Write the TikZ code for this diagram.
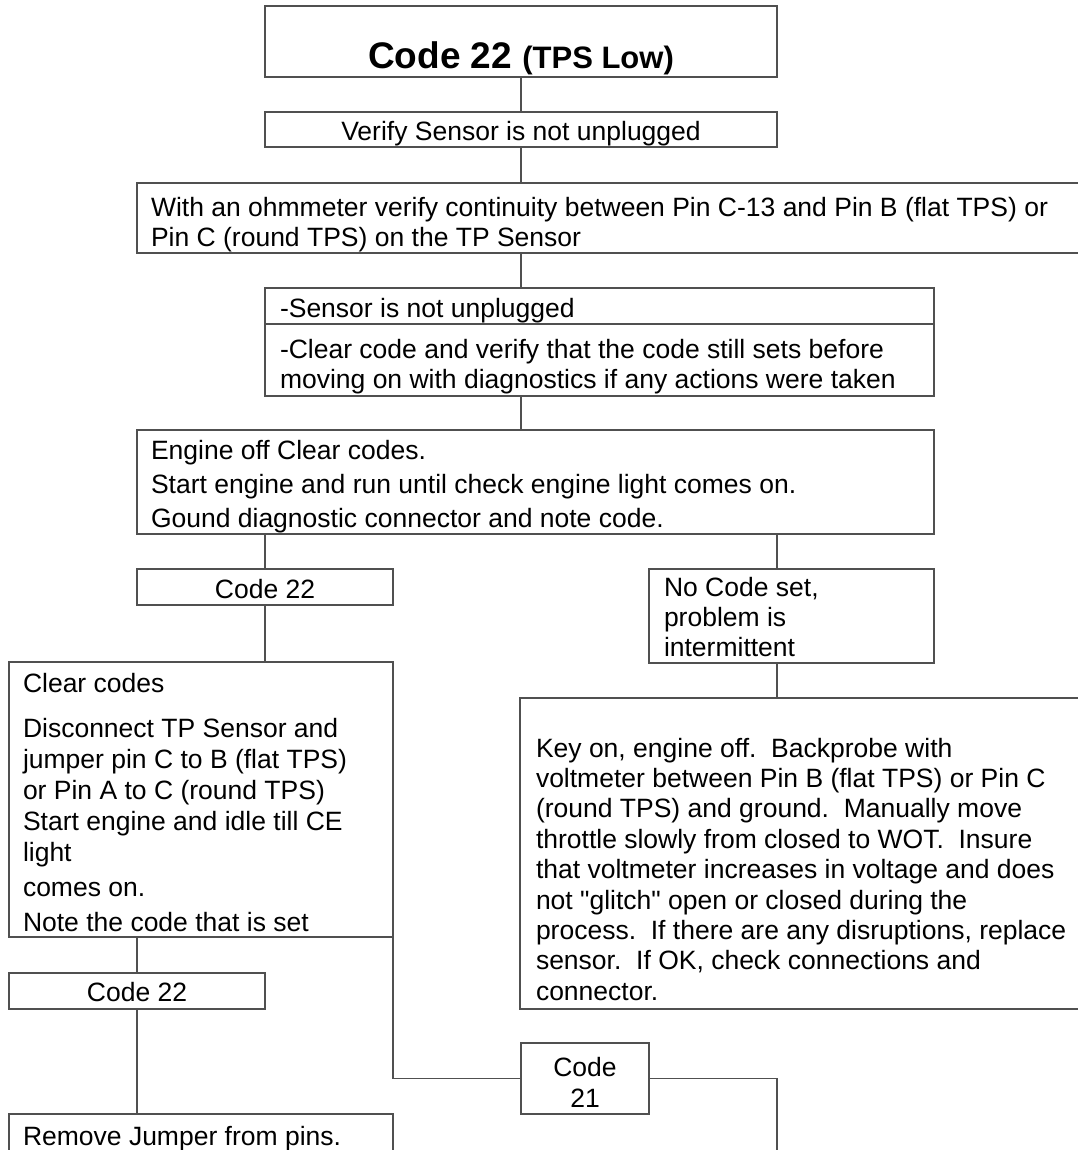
\documentclass[tikz,border=0pt]{standalone}
\usepackage{fontspec}
\setmainfont{Liberation Sans}[Ligatures=TeXOff]
\usetikzlibrary{calc}
\definecolor{linec}{HTML}{505050}
\tikzset{
  box/.style={draw=linec, line width=1.5pt, inner sep=0pt, outer sep=0pt, anchor=north west, rectangle},
  txt/.style={inner sep=0pt, outer sep=0pt, anchor=base west, font=\fontsize{26.5}{30.5}\selectfont\frenchspacing},
  ctxt/.style={txt, anchor=base},
  conn/.style={draw=linec, line width=1.5pt},
}
\newcommand{\mybox}[5]{\node[box, minimum width={#4pt-#2pt}, minimum height={#5pt-#3pt}] (#1) at (#2,#3) {};}
\newcommand{\mtxt}[3]{\parbox[t]{#1}{\fontsize{26.5}{#2}\selectfont\frenchspacing #3}}
\begin{document}
\begin{tikzpicture}[x=1pt,y=-1pt]
\fill[white] (0,0) rectangle (1077,1150);
\useasboundingbox (0,0) rectangle (1077,1150);
% boxes
\mybox{title}{265}{6}{777}{77}
\mybox{verify}{265}{112}{777}{147}
\mybox{ohm}{137}{183}{1080}{253}
\mybox{sensor}{265}{288}{934}{396}
\mybox{engine}{137}{430}{934}{534}
\mybox{code22a}{137}{569}{393}{605}
\mybox{nocode}{649}{569}{934}{663}
\mybox{clear}{9}{662}{393}{937}
\mybox{keyon}{520}{698}{1080}{1009}
\mybox{code22b}{9}{973}{265}{1009}
\mybox{code21}{521}{1043}{649}{1114}
\mybox{remove}{9}{1114}{393}{1160}
\coordinate (xr) at (777,0);
\coordinate (end21) at (777,1155);
% divider in sensor box
\draw[conn] (sensor.west |- 0,324) -- (sensor.east |- 0,324);
% texts
\node[ctxt] (t-title) at (521,69) {{\fontsize{37}{40}\selectfont\bfseries Code 22 }{\fontsize{31}{36}\selectfont\bfseries (TPS Low)}};
\node[ctxt] (t-verify) at (521,141) {Verify Sensor is not unplugged};
\node[txt] (t-ohm) at (151,217) {\mtxt{920pt}{30}{With an ohmmeter verify continuity between Pin C-13 and Pin B (flat TPS) or\\Pin C (round TPS) on the TP Sensor}};
\node[txt] (t-sensor) at (280,317) {\mtxt{650pt}{30}{-Sensor is not unplugged\\[11pt]-Clear code and verify that the code still sets before\\moving on with diagnostics if any actions were taken}};
\node[txt] (t-engine) at (151,459) {\mtxt{780pt}{34}{Engine off Clear codes.\\Start engine and run until check engine light comes on.\\Gound diagnostic connector and note code.}};
\node[ctxt] (t-code22a) at (265,598) {Code 22};
\node[txt] (t-nocode) at (664,596) {\mtxt{270pt}{30}{No Code set,\\problem is\\intermittent}};
\node[txt] (t-clear) at (23,692) {\mtxt{370pt}{31}{Clear codes\\[14pt]Disconnect TP Sensor and\\jumper pin C to B (flat TPS)\\or Pin A to C (round TPS)\\Start engine and idle till CE\\light\\[4pt]comes on.\\[4pt]Note the code that is set}};
\node[txt] (t-keyon) at (536,757) {\mtxt{540pt}{30.4}{Key on, engine off.\ \ Backprobe with\\voltmeter between Pin B (flat TPS) or Pin C\\(round TPS) and ground.\ \ Manually move\\throttle slowly from closed to WOT.\ \ Insure\\that voltmeter increases in voltage and does\\not "glitch" open or closed during the\\process.\ \ If there are any disruptions, replace\\sensor.\ \ If OK, check connections and\\connector.}};
\node[ctxt] (t-code22b) at (137,1001) {Code 22};
\node[ctxt] (t-code21) at (585,1076) {\mtxt{120pt}{31}{\centering Code\\21}};
\node[txt] (t-remove) at (23,1145) {Remove Jumper from pins.};
% connectors
\draw[conn] (title.south) -- (verify.north);
\draw[conn] (verify.south) -- (verify.south |- ohm.north);
\draw[conn] (ohm.south -| title.south) -- (sensor.north -| title.south);
\draw[conn] (sensor.south -| title.south) -- (engine.north -| title.south);
\draw[conn] (engine.south -| code22a.north) -- (code22a.north);
\draw[conn] (engine.south -| xr) -- (nocode.north -| xr);
\draw[conn] (code22a.south) -- (code22a.south |- clear.north);
\draw[conn] (nocode.south -| xr) -- (keyon.north -| xr);
\draw[conn] (clear.south -| code22b.north) -- (code22b.north);
\draw[conn] (code22b.south) -- (code22b.south |- remove.north);
\draw[conn] (clear.south east) |- (code21.west);
\draw[conn] (code21.east) -| (end21);
\end{tikzpicture}
\end{document}
